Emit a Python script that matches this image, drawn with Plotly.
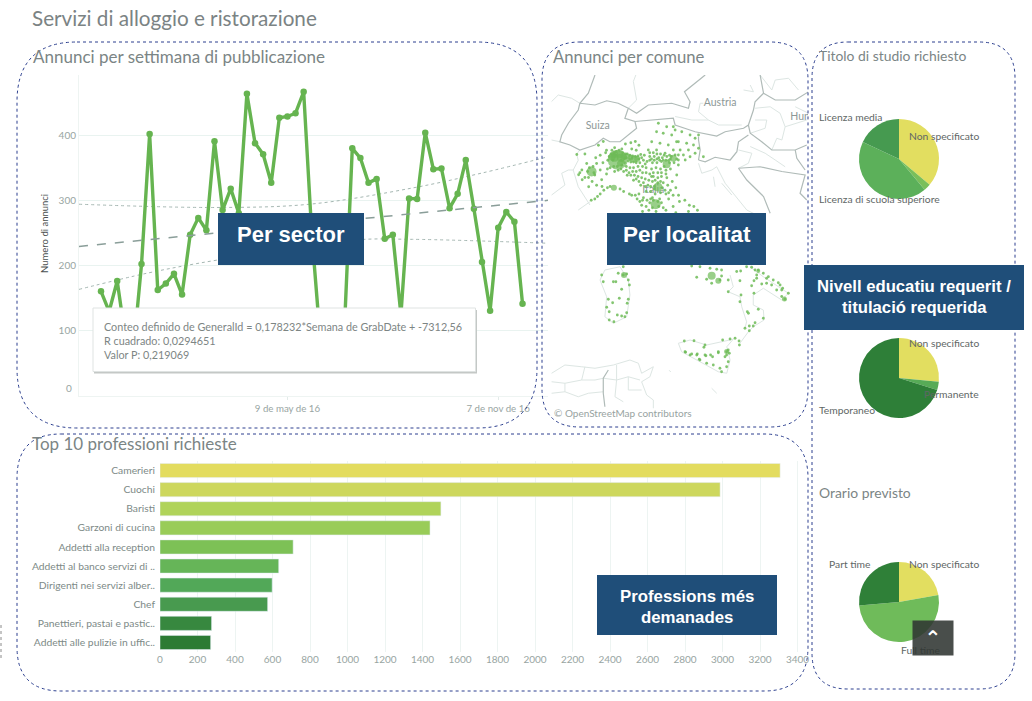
# dashboard annunci - servizi di alloggio e ristorazione
import pandas as pd
import plotly.graph_objects as go

W = 1032
H = 701

# annunci per settimana
settimane = pd.date_range("2015-11-30", periods=53, freq="7D")
annunci = [161, 130, 177, 90, 70, 203, 403, 163, 173, 188, 156, 248, 274, 255, 392, 286, 319, 281,
           465, 389, 372, 328, 428, 430, 435, 468, 250, 95, 90, 85, 96, 381, 366, 328, 334, 242,
           248, 125, 304, 303, 405, 349, 350, 289, 311, 363, 288, 206, 131, 259, 283, 268, 142]

trend_date = ["2015-11-11", "2016-12-20"]
trend_val = [230, 301]
banda_date_su = ["2015-11-11", "2016-03-09", "2016-05-28", "2016-08-25", "2016-10-24", "2016-12-20"]
banda_su = [295, 290, 295, 320, 343, 368]
banda_date_giu = ["2015-11-11", "2016-01-09", "2016-03-09", "2016-07-06", "2016-08-25", "2016-12-20"]
banda_giu = [164, 189, 209, 240, 241, 235]

# top 10 professioni
professioni = ["Camerieri", "Cuochi", "Baristi", "Garzoni di cucina", "Addetti alla reception",
               "Addetti al banco servizi di ..", "Dirigenti nei servizi alber..", "Chef",
               "Panettieri, pastai e pastic..", "Addetti alle pulizie in uffic.."]
prof_val = [3307, 2987, 1498, 1440, 710, 633, 598, 574, 275, 270]
prof_col = ["#e3dc5f", "#cdd75d", "#b0d35a", "#99cc58", "#7dc156", "#66b558", "#52a858", "#489a4f",
            "#37883f", "#2c7b34"]

# torte
titolo_lab = ["Non specificato", "Altro", "Licenza di scuola superiore", "Licenza media"]
titolo_val = [36.1, 2.8, 43.1, 18.0]
titolo_col = ["#e2de60", "#7abf5a", "#5cb05a", "#469a50"]
contratto_lab = ["Non specificato", "Permanente", "Temporaneo"]
contratto_val = [26.5, 3.3, 70.2]
contratto_col = ["#e2de60", "#57ab57", "#2e7f38"]
orario_lab = ["Non specificato", "Full time", "Part time"]
orario_val = [22.2, 51.4, 26.4]
orario_col = ["#e2de60", "#6fbb5a", "#2f8038"]

# confini (lon, lat)
confini_forti = [
    [(7.91, 48.86), (7.54, 48.13), (7.07, 47.73), (6.98, 47.46), (6.43, 46.93), (6.06, 46.46), (5.96, 46.19),
     (6.52, 46.06), (7.07, 45.86), (7.91, 46.06), (8.37, 46.33), (8.74, 46.19), (9.30, 46.19), (9.85, 46.53),
     (10.22, 46.73), (10.13, 47.0), (9.57, 47.13), (9.76, 47.53), (9.20, 47.73), (8.56, 47.83), (7.91, 47.66),
     (7.07, 47.73)],
    [(9.76, 47.53), (10.22, 47.33), (10.87, 47.66), (12.17, 47.73), (13.10, 47.53), (13.19, 47.79), (12.88, 48.19),
     (13.47, 48.53), (14.03, 48.86)],
    [(10.13, 47.0), (11.06, 47.06), (12.26, 47.13), (12.36, 46.86), (13.47, 46.59), (14.67, 46.42), (15.14, 46.59),
     (16.16, 46.73), (16.43, 46.86), (16.71, 47.46), (16.80, 47.79), (17.27, 48.13), (17.08, 48.86)],
    [(17.27, 48.13), (17.92, 47.86), (19.03, 47.86), (19.77, 48.19)],
    [(16.43, 46.86), (16.53, 46.53), (17.17, 46.19), (17.73, 45.86), (19.03, 45.86), (19.67, 46.06)],
    [(16.43, 46.46), (15.88, 46.19), (15.79, 45.79), (15.42, 45.46), (14.58, 45.57), (14.03, 45.39), (13.66, 45.46)],
    [(13.66, 46.39), (13.66, 46.26), (13.75, 45.86), (13.66, 45.46)],
    [(15.88, 45.13), (16.34, 44.66), (17.27, 44.0), (17.64, 43.33)],
    [(15.88, 45.13), (17.08, 45.19), (18.29, 45.0), (19.58, 44.86), (19.30, 44.13), (19.67, 43.86)],
    [(19.03, 45.86), (19.12, 45.53), (19.58, 45.06)],
    [(8.65, 37.06), (8.37, 36.73), (8.37, 36.13), (8.46, 35.59)],
]
confini_deboli = [
    [(5.50, 47.8), (5.87, 48.06), (6.61, 47.93), (7.07, 47.73)],
    [(10.04, 48.6), (10.2, 48.9)],
    [(10.04, 48.6), (10.22, 47.86), (9.76, 47.53)],
    [(5.50, 46.26), (5.96, 46.19)],
    [(7.07, 45.86), (6.89, 45.7), (6.98, 45.45), (6.70, 45.06), (6.98, 44.39), (7.63, 43.66)],
    [(5.50, 44.06), (6.24, 44.46), (6.06, 44.93), (6.43, 45.06), (6.70, 45.06)],
    [(6.98, 43.46), (7.63, 43.79)],
    [(12.36, 47.2), (13.29, 47.06), (14.21, 47.06), (14.77, 46.86), (16.06, 46.86)],
    [(14.21, 47.06), (13.66, 47.39), (13.75, 47.73), (13.93, 47.73)],
    [(16.16, 48.26), (16.71, 48.19), (16.53, 48.46)],
    [(16.80, 47.53), (17.64, 47.59), (18.19, 47.33), (18.47, 46.79), (18.29, 46.26), (18.01, 46.33), (17.73, 45.86)],
    [(16.80, 47.06), (17.45, 47.06), (17.36, 46.73), (16.53, 46.53)],
    [(18.47, 46.79), (19.67, 47.06)],
    [(19.03, 47.59), (19.77, 47.33)],
    [(17.08, 48.86), (17.73, 48.26), (17.92, 48.66), (18.66, 48.73), (19.21, 48.26)],
    [(16.53, 46.0), (17.36, 45.73), (17.92, 45.46), (18.47, 45.19)],
    [(15.88, 45.86), (16.62, 45.73), (16.43, 45.33), (15.88, 45.13)],
    [(13.66, 45.33), (13.84, 44.93), (14.40, 45.06), (14.67, 45.19), (15.14, 44.53), (15.60, 44.13), (16.34, 43.46),
     (17.08, 43.19)],
    [(14.49, 44.79), (14.58, 44.39)],
    [(14.95, 44.53), (15.51, 44.06)],
    [(8.19, 40.66), (8.46, 41.06), (9.30, 41.19), (9.76, 40.66), (9.85, 40.06), (9.67, 39.19), (8.93, 38.93),
     (8.46, 39.19), (8.56, 39.99), (8.28, 40.53), (8.19, 40.66)],
    [(15.41, 40.86), (15.59, 40.39), (15.31, 40.19), (15.96, 39.99), (16.06, 39.59), (16.33, 38.99), (16.24, 38.73)],
    [(16.52, 41.19), (17.26, 40.79), (18.65, 40.13), (18.28, 39.86), (17.26, 40.33), (16.70, 40.06), (16.70, 39.66),
     (17.26, 39.46), (17.30, 39.06), (16.70, 38.79), (16.43, 38.59), (15.96, 38.13)],
    [(12.54, 38.13), (13.19, 38.26), (14.11, 38.06), (15.59, 38.29), (15.23, 37.99), (15.41, 37.46), (15.23, 36.93),
     (14.76, 36.99), (13.74, 37.39), (12.72, 37.79), (12.54, 38.13)],
    [(5.50, 36.93), (6.24, 37.26), (7.17, 37.19), (7.91, 37.13), (8.93, 37.26), (9.85, 37.46), (10.32, 37.33),
     (10.50, 36.93), (11.15, 37.19), (10.96, 36.79), (10.50, 36.59), (10.78, 36.06), (11.15, 35.86), (11.15, 35.53)],
    [(5.50, 36.59), (6.24, 36.53), (6.24, 36.19), (5.50, 36.13)],
    [(6.24, 36.53), (7.17, 36.66), (7.35, 37.19)],
    [(7.17, 36.66), (7.91, 36.66), (8.37, 36.73), (9.11, 36.66), (9.76, 36.79), (10.41, 36.66)],
    [(6.24, 36.19), (6.98, 35.99), (7.54, 36.13), (8.37, 36.19)],
    [(9.11, 37.26), (9.11, 36.66), (9.02, 35.99), (9.48, 35.79)],
    [(9.76, 36.79), (9.76, 36.26), (10.50, 36.26)],
    [(14.39, 36.33), (14.67, 36.13)],
    [(12.03, 37.05), (12.12, 36.98)],
]

# comuni con annunci (lon, lat)
comuni_nord_ovest = [(6.90, 45.68), (7.35, 45.70), (7.45, 45.32), (7.18, 45.06), (7.0, 44.87), (7.35, 44.76),
                     (8.0, 45.32), (8.2, 45.06), (7.9, 44.86), (7.55, 44.76), (7.2, 44.67), (7.07, 44.95), (7.56, 44.39),
                     (8.28, 44.67), (8.0, 44.45), (8.55, 44.9), (8.6, 45.1), (8.35, 45.35), (8.62, 45.45), (8.5, 45.75),
                     (8.2, 45.65), (7.95, 45.55), (8.75, 45.15), (7.75, 44.6), (8.3, 44.4), (7.8, 45.2), (7.6, 45.15),
                     (7.85, 44.95), (7.5, 45.0), (8.37, 46.2), (8.1, 46.05)]
comuni_liguria = [(8.2, 44.1), (8.4, 44.25), (7.9, 43.9), (7.7, 43.85), (8.05, 44.0), (8.6, 44.35), (9.3, 44.3),
                  (9.5, 44.2), (9.82, 44.1), (9.95, 44.05), (8.75, 44.4)]
comuni_lombardia = [(8.55, 45.85), (8.85, 45.85), (9.0, 45.95), (9.1, 45.8), (9.25, 45.85), (9.4, 45.9), (9.6, 46.1),
                    (9.9, 46.15), (8.7, 45.6), (8.8, 45.7), (8.95, 45.7), (9.05, 45.65), (9.45, 45.75), (9.6, 45.7),
                    (9.7, 45.7), (9.85, 45.65), (9.95, 45.55), (10.35, 45.5), (10.5, 45.55), (10.6, 45.45),
                    (9.55, 45.35), (9.4, 45.25), (9.65, 45.2), (9.85, 45.15), (10.05, 45.15), (10.3, 45.2),
                    (9.15, 45.2), (8.95, 45.2), (9.0, 45.0), (9.35, 45.1), (9.65, 45.05), (9.8, 44.95), (10.0, 45.0),
                    (10.55, 45.2), (10.75, 45.15), (10.8, 45.4), (10.65, 45.65), (10.2, 45.85), (9.95, 45.9),
                    (10.35, 46.05), (10.15, 46.2)]
comuni_nord_est = [(11.43, 46.93), (11.89, 46.79), (12.26, 46.79), (11.33, 46.59), (11.70, 46.53), (12.17, 46.46),
                   (11.06, 46.19), (11.52, 46.13), (11.98, 46.06), (12.44, 46.19), (10.87, 45.86), (11.33, 45.86),
                   (11.80, 45.73), (12.26, 45.86), (12.54, 45.66), (10.95, 45.6), (11.2, 45.6), (11.45, 45.55),
                   (11.65, 45.55), (11.1, 45.35), (11.35, 45.35), (11.6, 45.4), (11.75, 45.2), (12.05, 45.35),
                   (12.1, 45.5), (12.3, 45.35), (12.45, 45.5), (12.1, 45.1), (11.85, 45.05), (11.55, 45.1),
                   (11.3, 45.15), (11.05, 45.1), (12.36, 46.66), (12.73, 46.59), (13.19, 46.46), (13.66, 46.46),
                   (13.47, 46.33), (12.54, 46.19), (13.0, 46.13), (13.38, 46.06), (13.66, 45.93), (12.64, 45.86),
                   (13.10, 45.86), (13.47, 45.73), (12.36, 45.66), (12.82, 45.66), (13.93, 45.59), (13.19, 45.59),
                   (12.54, 45.46), (12.92, 45.46), (12.45, 44.86), (12.54, 45.26)]
comuni_pianura = [(8.9, 45.45), (9.45, 45.42), (9.55, 45.5), (9.75, 45.42), (9.9, 45.38), (10.05, 45.38), (10.2, 45.35),
                  (10.4, 45.35), (10.7, 45.3), (10.95, 45.45), (11.05, 45.5), (11.2, 45.45), (11.35, 45.5), (11.5, 45.45),
                  (11.7, 45.45), (11.85, 45.45), (12.0, 45.45), (12.15, 45.6), (12.05, 45.65), (11.9, 45.6), (11.75, 45.65),
                  (11.55, 45.7), (11.35, 45.7), (11.15, 45.75), (10.95, 45.75), (9.2, 45.05), (9.5, 45.0), (9.7, 44.85),
                  (10.2, 45.0), (10.4, 45.05), (10.55, 44.95), (10.75, 44.95), (10.95, 44.9), (11.15, 44.95), (11.4, 44.95),
                  (11.6, 44.95), (11.85, 44.9), (10.2, 44.7), (10.45, 44.45), (10.7, 44.4), (11.0, 44.4), (11.2, 44.4),
                  (11.65, 44.35), (11.85, 44.1), (12.0, 44.15), (11.2, 44.3), (11.0, 44.2), (10.75, 44.2), (11.4, 44.55),
                  (11.55, 44.6), (11.05, 44.8), (11.25, 44.65), (10.95, 43.75), (11.1, 43.55), (11.45, 43.6), (11.6, 43.75),
                  (10.35, 44.1), (10.15, 44.05), (10.55, 43.85), (11.15, 43.85), (11.4, 43.8), (11.1, 43.95), (9.65, 45.55),
                  (9.85, 45.48), (10.0, 45.62), (10.15, 45.6), (10.3, 45.62), (10.45, 45.68), (9.35, 45.45), (9.0, 45.75)]
comuni_centro = [(9.9, 44.85), (10.1, 44.85), (10.3, 44.8), (10.5, 44.75), (10.7, 44.7), (10.9, 44.65), (11.1, 44.6),
                 (10.05, 44.65), (10.35, 44.6), (10.6, 44.55), (10.85, 44.45), (11.15, 44.8), (11.4, 44.75),
                 (11.6, 44.8), (11.9, 44.75), (11.7, 44.55), (11.95, 44.45), (12.1, 44.25), (12.25, 44.05),
                 (12.55, 44.05), (12.4, 44.35), (11.8, 44.25), (11.55, 44.15), (11.25, 44.1), (12.2, 44.6),
                 (10.25, 43.9), (10.4, 43.8), (10.6, 43.95), (10.8, 43.85), (11.0, 43.9), (10.5, 43.65), (10.75, 43.6),
                 (10.9, 43.45), (11.5, 43.9), (11.7, 43.55), (11.85, 43.45), (12.25, 43.6), (12.6, 43.8), (12.9, 43.85),
                 (13.15, 43.65), (13.4, 43.6), (13.6, 43.45), (13.1, 43.4), (12.4, 43.35), (11.3, 43.4), (10.55, 43.4),
                 (12.0, 43.9)]
comuni_sardegna = [(9.48, 41.19), (9.20, 40.93), (9.48, 40.86), (9.67, 40.90), (8.28, 40.86), (8.37, 40.59), (8.93, 40.59),
                   (9.07, 40.59), (9.76, 40.66), (9.82, 40.46), (9.39, 40.29), (8.65, 39.89), (8.89, 39.75), (9.26, 39.93),
                   (9.76, 39.89), (9.70, 39.73), (8.56, 39.57), (8.70, 39.39), (9.67, 39.35), (9.15, 39.26), (9.39, 39.22),
                   (9.57, 39.19), (8.70, 39.06), (8.96, 38.99)]
comuni_sud = [(13.56, 40.77), (13.28, 41.22), (13.74, 41.19), (14.30, 41.13), (14.67, 41.09), (14.94, 41.06), (14.11, 40.69),
              (14.39, 40.53), (14.85, 40.66), (14.94, 40.82), (15.31, 40.66), (15.31, 40.19), (15.78, 41.0), (16.0, 41.02),
              (15.96, 40.63), (16.02, 40.06), (15.96, 39.79), (16.74, 40.63), (16.61, 40.43), (16.74, 40.13), (16.37, 39.39),
              (16.43, 39.33), (16.98, 39.49), (17.26, 39.13), (16.80, 38.95), (16.24, 38.73), (16.48, 38.82), (16.70, 38.82),
              (16.48, 38.63), (16.33, 41.19), (16.61, 41.17), (16.80, 41.06), (16.98, 41.06), (17.26, 40.93), (17.54, 40.79),
              (17.81, 40.66), (18.09, 40.55), (18.33, 40.33), (18.65, 40.13), (18.46, 39.89), (18.28, 40.0), (18.0, 40.26),
              (17.44, 40.53), (17.17, 40.5), (16.89, 40.73), (16.89, 40.86), (17.44, 40.73), (17.72, 40.46), (18.28, 40.26),
              (18.19, 40.46)]
comuni_sicilia = [(12.87, 38.22), (13.41, 38.23), (14.02, 38.06), (13.96, 37.97), (15.0, 38.26), (15.41, 38.30), (15.69, 38.33),
                  (15.91, 38.22), (15.93, 38.06), (14.76, 37.79), (15.31, 37.86), (15.37, 37.73), (15.22, 37.66), (15.13, 37.59),
                  (12.94, 37.77), (13.19, 37.66), (13.59, 37.70), (14.07, 37.63), (14.44, 37.59), (13.70, 37.49), (12.91, 37.79),
                  (13.28, 37.70), (13.56, 37.66), (14.02, 37.66), (14.33, 37.66), (14.76, 37.75), (15.22, 37.79), (15.31, 37.39),
                  (15.22, 37.19), (14.85, 37.13), (14.94, 36.99), (14.48, 37.26), (14.11, 37.33), (13.74, 37.46)]
comuni = (comuni_nord_ovest + comuni_liguria + comuni_lombardia + comuni_nord_est + comuni_pianura + comuni_centro
          + comuni_sardegna + comuni_sud + comuni_sicilia)

# citta con piu annunci: lon, lat, dimensione
citta_lon = [9.17, 9.0, 9.35, 8.85, 9.3, 9.0, 9.3, 9.5, 9.7, 9.9, 10.1, 10.25, 7.72, 8.96, 11.41, 11.28, 11.89, 12.26,
             14.39, 14.76, 16.98, 15.22, 9.52, 18.43]
citta_lat = [45.47, 45.55, 45.55, 45.58, 45.68, 45.68, 45.32, 45.6, 45.6, 45.55, 45.5, 45.5, 45.0, 44.35, 44.38, 43.69,
             45.29, 45.53, 40.83, 40.63, 41.02, 37.8, 40.86, 39.9]
citta_dim = [20, 8, 8, 7, 7, 7, 6, 6, 6, 6, 7, 6, 10, 6, 9, 10, 8, 7, 8, 6, 4, 5, 6, 5]


def px_x(v):
    return v / W


def px_y(v):
    return 1 - v / H


def dom_x(a, b):
    return [px_x(a), px_x(b)]


def dom_y(top, bottom):
    return [px_y(bottom), px_y(top)]


def unisci(linee):
    xs, ys = [], []
    for linea in linee:
        xs += [p[0] for p in linea] + [None]
        ys += [p[1] for p in linea] + [None]
    return xs, ys


def arrotondato(x0, y0, x1, y1, r):
    a, b, c, d = px_x(x0), px_y(y0), px_x(x1), px_y(y1)
    rx, ry = r / W, r / H
    return (f"M {a + rx} {b} L {c - rx} {b} Q {c} {b} {c} {b - ry} L {c} {d + ry} Q {c} {d} {c - rx} {d} "
            f"L {a + rx} {d} Q {a} {d} {a} {d + ry} L {a} {b - ry} Q {a} {b} {a + rx} {b} Z")


GRIGIO = "#7b8585"
TICK = "#98a5a2"
ETI = "#5f6766"
FONT = "Lato"
annotazioni = []


def testo(x, y, t, size, color=GRIGIO, anchor="left", family=FONT, **kw):
    annotazioni.append(dict(x=px_x(x), y=px_y(y), xref="paper", yref="paper", text=t, showarrow=False,
                            xanchor=anchor, yanchor="middle", font=dict(size=size, color=color, family=family),
                            borderpad=0, **kw))


fig = go.Figure()

# linea settimanale
fig.add_trace(go.Scatter(x=banda_date_su, y=banda_su, mode="lines", xaxis="x", yaxis="y",
                         line=dict(color="#a5b7b2", width=1, dash="dot", shape="spline")))
fig.add_trace(go.Scatter(x=banda_date_giu, y=banda_giu, mode="lines", xaxis="x", yaxis="y",
                         line=dict(color="#a5b7b2", width=1, dash="dot", shape="spline")))
fig.add_trace(go.Scatter(x=settimane, y=annunci, mode="lines+markers", xaxis="x", yaxis="y",
                         line=dict(color="#66b450", width=3.4), marker=dict(color="#66b450", size=6.5)))
fig.add_trace(go.Scatter(x=trend_date, y=trend_val, mode="lines", xaxis="x", yaxis="y",
                         line=dict(color="#8a9e99", width=1.5, dash="dash")))

# mappa
fx, fy = unisci(confini_deboli)
fig.add_trace(go.Scatter(x=fx, y=fy, mode="lines", xaxis="x2", yaxis="y2", line=dict(color="#dde6e3", width=1)))
fx, fy = unisci(confini_forti)
fig.add_trace(go.Scatter(x=fx, y=fy, mode="lines", xaxis="x2", yaxis="y2", line=dict(color="#b0bbb8", width=1.2)))
fig.add_trace(go.Scatter(x=[8.06, 14.86, 19.3, 11.15], y=[46.79, 47.73, 47.15, 44.26], text=["Suiza", "Austria", "Hun", "Italia"],
                         mode="text", xaxis="x2", yaxis="y2", textposition="middle center",
                         textfont=dict(size=10.5, color="#8d9897", family=FONT)))
fig.add_trace(go.Scatter(x=[p[0] for p in comuni], y=[p[1] for p in comuni], mode="markers", xaxis="x2", yaxis="y2",
                         marker=dict(color="#6dbb57", size=2.8, opacity=0.85, line=dict(width=0))))
fig.add_trace(go.Scatter(x=citta_lon, y=citta_lat, mode="markers", xaxis="x2", yaxis="y2",
                         marker=dict(color="#6dbb57", size=citta_dim, line=dict(width=0))))

# barre
fig.add_trace(go.Bar(y=professioni, x=prof_val, orientation="h", xaxis="x3", yaxis="y3", marker=dict(color=prof_col),
                     width=0.74))

# torte
for lab, val, col, cy in [(titolo_lab, titolo_val, titolo_col, 159),
                          (contratto_lab, contratto_val, contratto_col, 378),
                          (orario_lab, orario_val, orario_col, 602)]:
    fig.add_trace(go.Pie(labels=lab, values=val, sort=False, direction="clockwise", rotation=0, textinfo="none",
                         marker=dict(colors=col, line=dict(color="white", width=0)),
                         domain=dict(x=dom_x(859, 939), y=dom_y(cy - 40, cy + 40))))

# riquadri tratteggiati
forme = []
for x0, y0, x1, y1, r in [(17, 42, 537, 428, 60), (542, 42, 808, 427, 38), (812, 42, 1015, 689, 36), (17, 434, 808, 691, 44)]:
    forme.append(dict(type="path", path=arrotondato(x0, y0, x1, y1, r), xref="paper", yref="paper", layer="above",
                      line=dict(color="#2c3f8f", width=1, dash="dot")))
forme.append(dict(type="line", x0=px_x(1), x1=px_x(1), y0=px_y(625), y1=px_y(660), xref="paper", yref="paper",
                  line=dict(color="#8a8a8a", width=1, dash="dot")))

# tooltip
forme.append(dict(type="rect", x0=px_x(94), x1=px_x(477), y0=px_y(310), y1=px_y(373.5), xref="paper", yref="paper",
                  layer="above", fillcolor="#c4c8c6", line=dict(width=0)))
forme.append(dict(type="rect", x0=px_x(93), x1=px_x(475.5), y0=px_y(308), y1=px_y(371.5), xref="paper", yref="paper",
                  layer="above", fillcolor="white", line=dict(color="#dfe3e2", width=1)))

# etichette blu
for x0, y0, x1, y1 in [(218, 213, 364, 265), (607, 213, 766, 265), (804, 265, 1024, 330), (597, 575, 777, 635)]:
    forme.append(dict(type="rect", x0=px_x(x0), x1=px_x(x1), y0=px_y(y0), y1=px_y(y1), xref="paper", yref="paper",
                      layer="above", fillcolor="#1f4e79", line=dict(width=0)))

testo(31, 18, "Servizi di alloggio e ristorazione", 20.7, "#7b8384")
testo(32, 57, "Annunci per settimana di pubblicazione", 17)
testo(552, 57, "Annunci per comune", 16.7)
testo(31, 443, "Top 10 professioni richieste", 17)
testo(818, 55, "Titolo di studio richiesto", 13.9)
testo(818, 492, "Orario previsto", 13.9)

testo(44, 234, "Numero di annunci", 9.5, "#4a4f4f", anchor="center", textangle=-90)
testo(73, 388, "0", 10, TICK, anchor="right")
testo(553, 413, "© OpenStreetMap contributors", 10, "#98a3a1")

testo(103, 326, "Conteo definido de GeneralId = 0,178232*Semana de GrabDate + -7312,56", 10.8, "#7d8584")
testo(103, 340, "R cuadrado: 0,0294651", 10.8, "#7d8584")
testo(103, 354, "Valor P: 0,219069", 10.8, "#7d8584")

testo(818, 117, "Licenza media", 10.3, ETI)
testo(908, 136, "Non specificato", 10.3, ETI)
testo(818, 199, "Licenza di scuola superiore", 10.3, ETI)
testo(908, 343, "Non specificato", 10.3, ETI)
testo(923, 394, "Permanente", 10.3, ETI)
testo(818, 410, "Temporaneo", 10.3, ETI)
testo(828, 564, "Part time", 10.3, ETI)
testo(908, 564, "Non specificato", 10.3, ETI)
testo(900, 650, "Full time", 10.3, ETI)

BOLD = "Liberation Sans"
testo(291, 235, "<b>Per sector</b>", 22, "white", anchor="center", family=BOLD)
testo(686.5, 235, "<b>Per localitat</b>", 22.5, "white", anchor="center", family=BOLD)
testo(914, 286, "<b>Nivell educatiu requerit /</b>", 16.7, "white", anchor="center", family=BOLD)
testo(914, 308, "<b>titulació requerida</b>", 16.7, "white", anchor="center", family=BOLD)
testo(687, 596, "<b>Professions més</b>", 16.8, "white", anchor="center", family=BOLD)
testo(687, 617, "<b>demanades</b>", 16.8, "white", anchor="center", family=BOLD)

# pulsante su
annotazioni.append(dict(x=px_x(933), y=px_y(638), xref="paper", yref="paper", text="<b>⌃</b>", showarrow=False,
                        xanchor="center", yanchor="middle", width=38, height=32, bgcolor="rgba(48,54,50,0.88)",
                        font=dict(size=20, color="white", family="DejaVu Sans")))

fig.update_layout(
    width=W, height=H, margin=dict(l=0, r=0, t=0, b=0), showlegend=False, paper_bgcolor="white",
    plot_bgcolor="rgba(0,0,0,0)", shapes=forme, annotations=annotazioni, font=dict(family=FONT, color=TICK),
    xaxis=dict(domain=dom_x(79, 548), range=["2015-11-11", "2016-12-20"], tickvals=["2016-05-09", "2016-11-07"],
               ticktext=["9 de may de 16", "7 de nov de 16"], ticks="outside", ticklen=3, tickcolor="#e3ebe9",
               showgrid=False, zeroline=False, showline=True, linecolor="#eef4f2", tickfont=dict(size=9.7, color=TICK),
               anchor="y", automargin=False),
    yaxis=dict(domain=dom_y(75, 396), range=[0, 493.8], tickvals=[0, 100, 200, 300, 400],
               ticktext=["", "100", "200", "300", "400"], gridcolor="#e9f3f0", zeroline=False, showline=True,
               linecolor="#eef4f2", tickfont=dict(size=10, color=TICK), ticklen=0, ticks="", anchor="x", automargin=False),
    xaxis2=dict(domain=dom_x(548, 808), range=[5.3, 19.74], visible=False, anchor="y2", automargin=False),
    yaxis2=dict(domain=dom_y(75, 420), range=[35.06, 48.86], visible=False, anchor="x2", automargin=False),
    xaxis3=dict(domain=dom_x(160, 800), range=[0, 3413], tickvals=list(range(0, 3401, 200)), gridcolor="#edf4f2",
                zeroline=False, tickfont=dict(size=10, color=TICK), anchor="y3", ticks="", ticklen=0, automargin=False),
    yaxis3=dict(domain=dom_y(461, 652), autorange="reversed", showgrid=False, zeroline=False, anchor="x3", ticks="",
                tickfont=dict(size=10.3, color="#7d8a87"), ticklabelstandoff=4, automargin=False),
)

fig.write_html("out.html", config=dict(displayModeBar=False), post_script="document.body.style.margin='0';")
